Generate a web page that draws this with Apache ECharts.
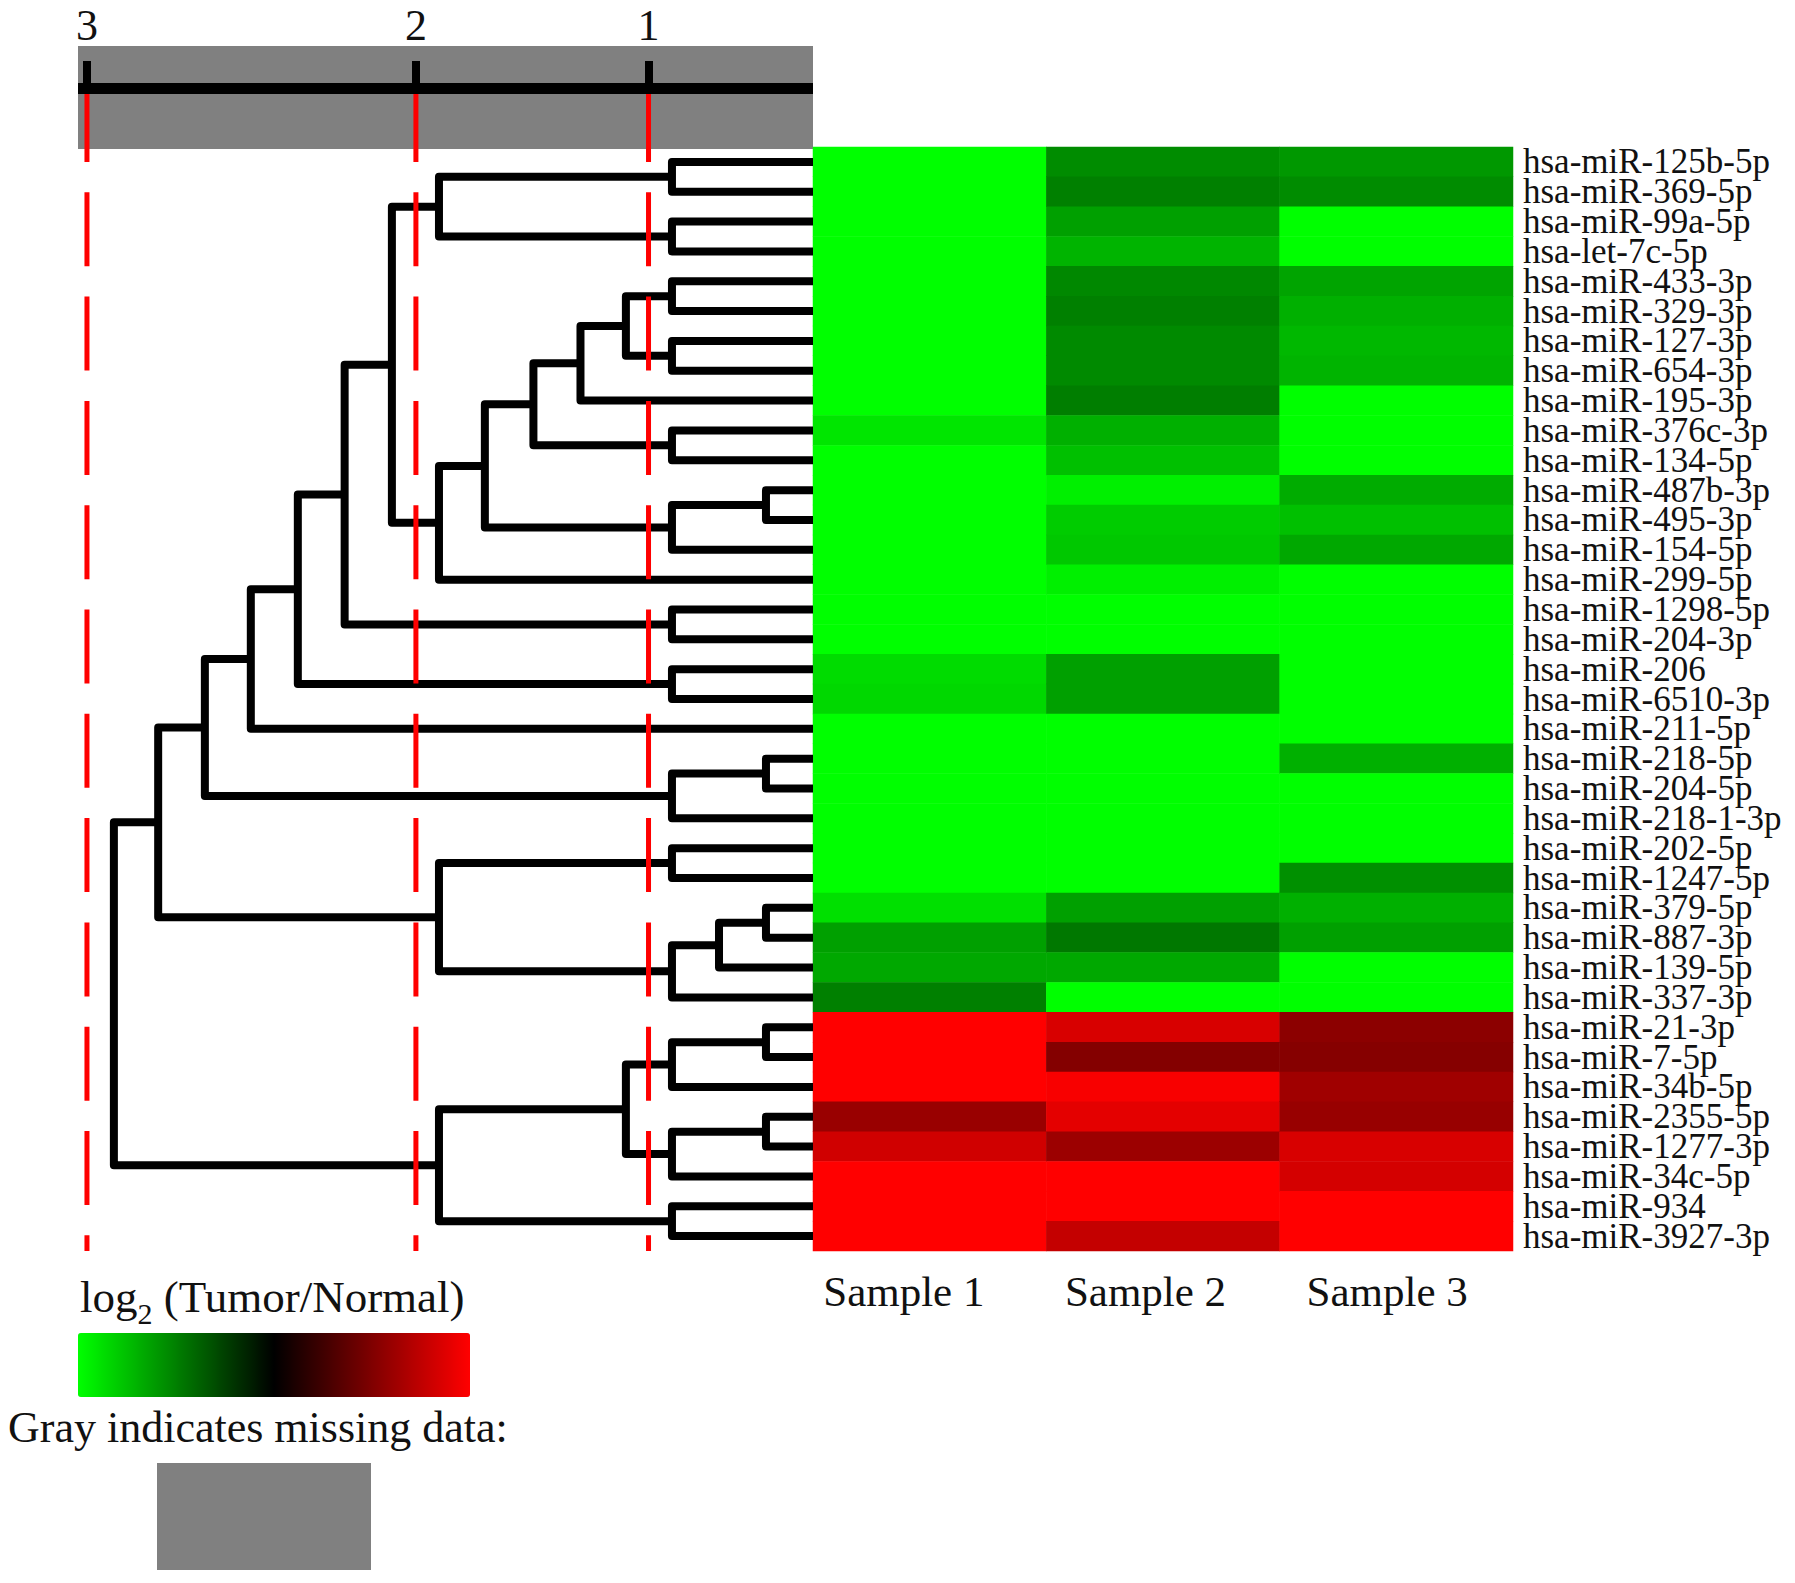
<!DOCTYPE html>
<html><head><meta charset="utf-8">
<script src="https://cdn.jsdelivr.net/npm/echarts@6/dist/echarts.min.js"></script>
<style>html,body{margin:0;padding:0;background:#fff}#c{width:1795px;height:1583px}</style>
</head><body><div id="c"></div>
<script>
const mirnas = ['hsa-miR-125b-5p','hsa-miR-369-5p','hsa-miR-99a-5p','hsa-let-7c-5p','hsa-miR-433-3p','hsa-miR-329-3p','hsa-miR-127-3p','hsa-miR-654-3p','hsa-miR-195-3p','hsa-miR-376c-3p','hsa-miR-134-5p','hsa-miR-487b-3p','hsa-miR-495-3p','hsa-miR-154-5p','hsa-miR-299-5p','hsa-miR-1298-5p','hsa-miR-204-3p','hsa-miR-206','hsa-miR-6510-3p','hsa-miR-211-5p','hsa-miR-218-5p','hsa-miR-204-5p','hsa-miR-218-1-3p','hsa-miR-202-5p','hsa-miR-1247-5p','hsa-miR-379-5p','hsa-miR-887-3p','hsa-miR-139-5p','hsa-miR-337-3p','hsa-miR-21-3p','hsa-miR-7-5p','hsa-miR-34b-5p','hsa-miR-2355-5p','hsa-miR-1277-3p','hsa-miR-34c-5p','hsa-miR-934','hsa-miR-3927-3p'];
const samples = ['Sample 1','Sample 2','Sample 3'];
// log2 (Tumor/Normal), colour saturates at +/-2.5
const sample1 = [-2.5,-2.5,-2.5,-2.5,-2.5,-2.5,-2.5,-2.5,-2.5,-2.25,-2.5,-2.5,-2.5,-2.5,-2.5,-2.5,-2.5,-2.16,-2.12,-2.5,-2.5,-2.5,-2.5,-2.5,-2.5,-2.2,-1.57,-1.65,-1.25,2.5,2.5,2.5,1.5,2.04,2.5,2.5,2.5];
const sample2 = [-1.37,-1.25,-1.57,-1.76,-1.33,-1.25,-1.35,-1.35,-1.24,-1.73,-1.88,-2.35,-2.0,-1.96,-2.35,-2.5,-2.5,-1.57,-1.57,-2.5,-2.5,-2.5,-2.5,-2.5,-2.5,-1.57,-1.18,-1.65,-2.5,2.12,1.29,2.43,2.24,1.53,2.5,2.5,1.92];
const sample3 = [-1.49,-1.37,-2.5,-2.5,-1.61,-1.73,-1.8,-1.76,-2.5,-2.5,-2.5,-1.69,-1.88,-1.65,-2.5,-2.5,-2.5,-2.5,-2.5,-2.5,-1.73,-2.5,-2.5,-2.5,-1.41,-1.73,-1.57,-2.5,-2.5,1.37,1.31,1.57,1.49,2.12,2.08,2.5,2.5];
const scaleTicks = [3, 2, 1];
// linkage: [child a, child b, distance]; ids >= 37 refer to earlier merges (37 + row index)
const linkage = [
 [0,1,0.877],[2,3,0.877],[37,38,1.915],[4,5,0.877],[6,7,0.877],[40,41,1.114],[42,8,1.33],[9,10,0.877],
 [43,44,1.538],[11,12,0.323],[46,13,0.877],[45,47,1.738],[48,14,1.915],[39,49,2.086],[15,16,0.877],[50,51,2.248],
 [17,18,0.877],[52,53,2.40],[54,19,2.545],[20,21,0.323],[56,22,0.877],[55,57,2.68],[23,24,0.877],[25,26,0.323],
 [60,27,0.613],[61,28,0.877],[59,62,1.915],[58,63,2.811],[29,30,0.323],[65,31,0.877],[32,33,0.323],[67,34,0.877],
 [66,68,1.114],[35,36,0.877],[69,70,1.915],[64,71,2.93]
];

const FONT = "'Liberation Serif','Times New Roman',serif";
const distToAxis = d => Math.pow(2, d / 2) - 1;   // dendrogram distance scale
const U_MAX = 1.851;
const Y_MIN = -2.477, Y_MAX = 36.5;

const nLeaf = mirnas.length;
const nodeH = [], nodeY = [];
for (let i = 0; i < nLeaf; i++) { nodeH[i] = 0; nodeY[i] = i; }
const dendroData = linkage.map((m, k) => {
  const [a, b, h] = m; const id = nLeaf + k;
  nodeH[id] = h; nodeY[id] = (nodeY[a] + nodeY[b]) / 2;
  return [distToAxis(nodeH[a]), nodeY[a], distToAxis(h), nodeY[b], distToAxis(nodeH[b])];
});

const heatData = [];
[sample1, sample2, sample3].forEach((arr, j) => arr.forEach((v, i) => heatData.push([j, i, v])));

const chart = echarts.init(document.getElementById('c'), null, {renderer: 'svg', width: 1795, height: 1583});
chart.setOption({
  backgroundColor: '#ffffff',
  animation: false,
  title: [
    {text: '{a|log}{s|2}{a| (Tumor/Normal)}', left: 80, top: 1266, padding: 0,
     textStyle: {fontWeight: 'normal', rich: {
       a: {fontSize: 45, fontFamily: FONT, fontWeight: 'normal', color: '#111'},
       s: {fontSize: 30, fontFamily: FONT, fontWeight: 'normal', color: '#111', padding: [32, 0, 0, 0]}
     }}},
    {text: 'Gray indicates missing data:', left: 8, top: 1405, padding: 0,
     textStyle: {fontSize: 44, fontFamily: FONT, fontWeight: 'normal', color: '#111'}}
  ],
  grid: [
    {left: 813, top: 147, width: 700, height: 1104},
    {left: 78, top: 88, width: 735, height: 1163},
    {left: 78, top: 46, width: 735, height: 103, show: true, backgroundColor: '#808080', borderWidth: 0},
    {left: 783, top: 1250, width: 725, height: 2}
  ],
  xAxis: [
    {gridIndex: 0, type: 'category', data: samples, axisLine: {show: false}, axisTick: {show: false}, axisLabel: {show: false}},
    {gridIndex: 1, type: 'value', min: 0, max: U_MAX, inverse: true, show: false},
    {gridIndex: 2, type: 'value', min: 0, max: U_MAX, inverse: true, position: 'top', offset: -42, z: 10,
     splitLine: {show: false},
     axisLine: {show: true, onZero: false, lineStyle: {color: '#000', width: 11, cap: 'butt'}},
     axisTick: {show: true, customValues: scaleTicks.map(distToAxis), length: 27, lineStyle: {color: '#000', width: 8, cap: 'butt'}},
     axisLabel: {show: true, customValues: scaleTicks.map(distToAxis), formatter: v => String(Math.round(2 * Math.log2(1 + v))),
       fontSize: 44, fontFamily: FONT, color: '#111', margin: 41}},
    {gridIndex: 3, type: 'category', data: samples, axisLine: {show: false}, axisTick: {show: false},
     axisLabel: {interval: 0, fontSize: 43, fontFamily: FONT, color: '#111', margin: 18}}
  ],
  yAxis: [
    {gridIndex: 0, type: 'category', data: mirnas, inverse: true, position: 'right',
     axisLine: {show: false}, axisTick: {show: false},
     axisLabel: {interval: 0, fontSize: 35, lineHeight: 29, fontFamily: FONT, color: '#111', margin: 10}},
    {gridIndex: 1, type: 'value', min: Y_MIN, max: Y_MAX, inverse: true, show: false},
    {gridIndex: 2, type: 'value', show: false},
    {gridIndex: 3, type: 'value', show: false}
  ],
  visualMap: {
    type: 'continuous', min: -2.5, max: 2.5, seriesIndex: 0, orient: 'horizontal',
    left: 78, top: 1333, itemWidth: 64, itemHeight: 392, padding: 0, calculable: false, hoverLink: false,
    inRange: {color: ['#00ff00', '#000000', '#ff0000']}
  },
  graphic: [{type: 'rect', left: 157, top: 1463, shape: {width: 214, height: 107}, style: {fill: '#808080'}}],
  series: [
    {type: 'heatmap', xAxisIndex: 0, yAxisIndex: 0, data: heatData, itemStyle: {borderWidth: 0}},
    {type: 'custom', xAxisIndex: 1, yAxisIndex: 1, z: 2, data: dendroData,
     renderItem: (params, api) => {
       const p1 = api.coord([api.value(0), api.value(1)]);
       const p2 = api.coord([api.value(2), api.value(1)]);
       const p3 = api.coord([api.value(2), api.value(3)]);
       const p4 = api.coord([api.value(4), api.value(3)]);
       return {type: 'polyline', shape: {points: [p1, p2, p3, p4]},
         style: {stroke: '#000', lineWidth: 8, fill: 'none', lineJoin: 'round'}};
     }},
    {type: 'custom', xAxisIndex: 1, yAxisIndex: 1, z: 3, data: scaleTicks.map(d => [distToAxis(d)]),
     renderItem: (params, api) => {
       const a = api.coord([api.value(0), Y_MIN]);
       const b = api.coord([api.value(0), Y_MAX]);
       return {type: 'line', shape: {x1: a[0], y1: a[1], x2: b[0], y2: b[1]},
         style: {stroke: '#ff0000', lineWidth: 5, lineDash: [74, 30.3]}};
     }}
  ]
});
</script></body></html>
